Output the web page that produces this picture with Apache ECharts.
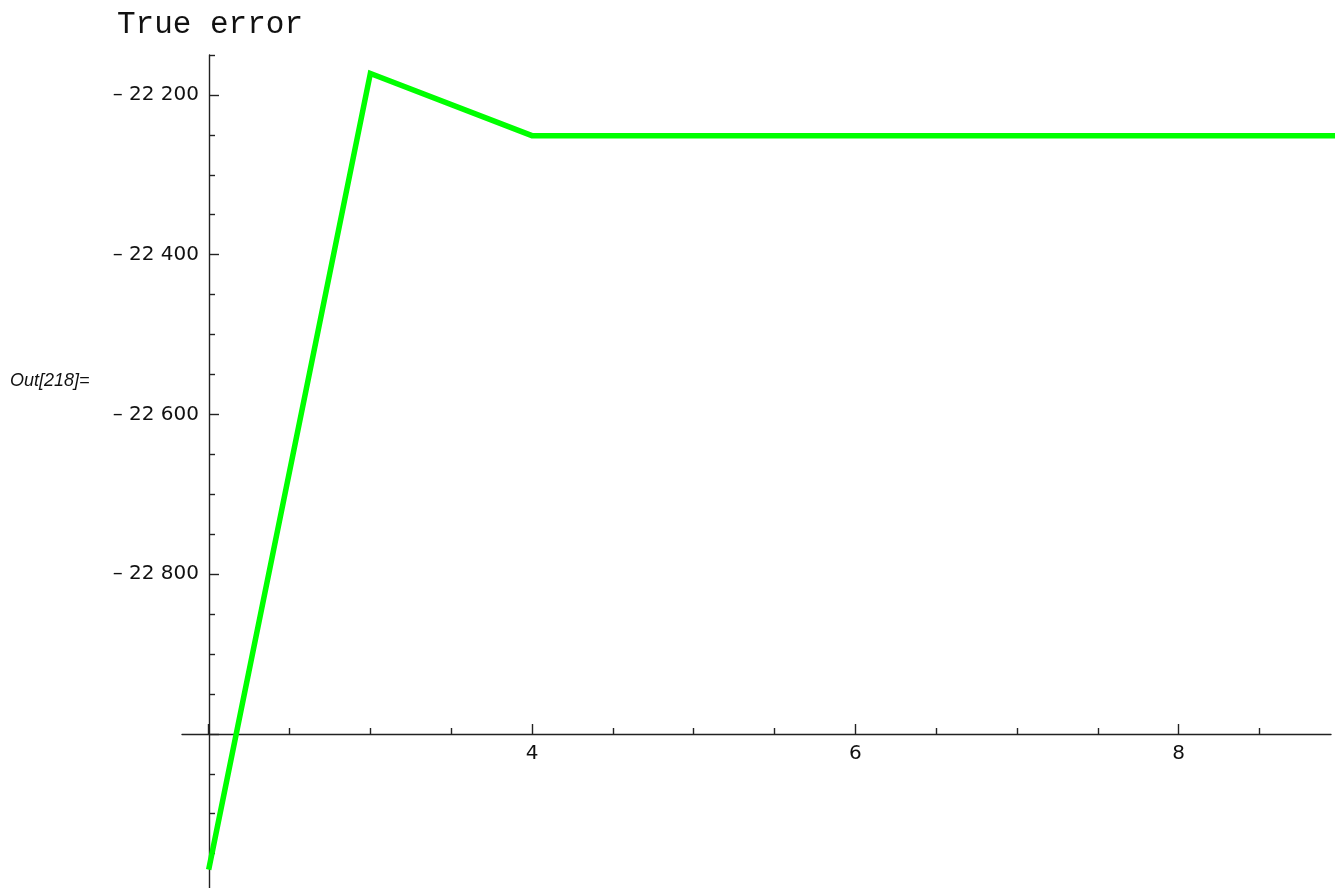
<!DOCTYPE html>
<html>
<head>
<meta charset="utf-8">
<script src="https://cdn.jsdelivr.net/npm/echarts@6/dist/echarts.min.js"></script>
<style>
html,body{margin:0;padding:0;background:#fff;}
#c{width:1338px;height:888px;}
</style>
</head>
<body>
<div id="c"></div>
<script>
// Data
const xValues = [2, 3, 4, 5, 6, 7, 8, 9];
const trueError = [-23170, -22173, -22251, -22251, -22251, -22251, -22251, -22251];
const xLabelTicks = [4, 6, 8];
const xMajorTicks = [2, 4, 6, 8];
const xMinorTicks = [2.5, 3, 3.5, 4.5, 5, 5.5, 6.5, 7, 7.5, 8.5];
const yLabelTicks = [-22800, -22600, -22400, -22200];
const yMajorTicks = [-23000, -22800, -22600, -22400, -22200];
const yMinorTicks = [-23150, -23100, -23050, -22950, -22900, -22850, -22750, -22700, -22650,
  -22550, -22500, -22450, -22350, -22300, -22250, -22150];
const titleText = 'True error';
const outLabel = 'Out[218]=';

const X_MIN = 1.835, X_MAX = 8.942;
const Y_MIN = -23193, Y_MAX = -22150;

function fmtY(v) {
  const a = Math.abs(Math.round(v));
  const s = String(a);
  const g = s.length > 3 ? s.slice(0, s.length - 3) + ' ' + s.slice(s.length - 3) : s;
  return (v < 0 ? '\u2013 ' : '') + g;
}

const axisColor = '#222';
const axisW = 1.4;
const labelStyle = { color: '#111', fontFamily: 'DejaVu Sans', fontSize: 20 };

const chart = echarts.init(document.getElementById('c'), null, { renderer: 'canvas' });
chart.setOption({
  animation: false,
  backgroundColor: '#fff',
  title: {
    text: titleText,
    left: 112,
    top: 4,
    textStyle: { fontFamily: 'Liberation Mono', fontSize: 31, fontWeight: 'normal', color: '#111' }
  },
  graphic: [{
    type: 'text',
    left: 10,
    top: 372,
    style: { text: outLabel, font: 'italic 18px "Liberation Sans"', fill: '#111' }
  }],
  grid: { left: 182, right: 7, top: 55, bottom: 0, containLabel: false },
  xAxis: [{
    type: 'value', min: X_MIN, max: X_MAX, position: 'bottom', offset: -154,
    splitLine: { show: false },
    axisLine: { show: true, onZero: false, lineStyle: { color: axisColor, width: axisW } },
    axisTick: { show: true, inside: true, length: 10, customValues: xMajorTicks, lineStyle: { color: axisColor, width: axisW } },
    axisLabel: { show: true, margin: 10, customValues: xLabelTicks, formatter: v => String(v), ...labelStyle }
  }, {
    type: 'value', min: X_MIN, max: X_MAX, position: 'bottom', offset: -154,
    splitLine: { show: false },
    axisLine: { show: false, onZero: false },
    axisTick: { show: true, inside: true, length: 6, customValues: xMinorTicks, lineStyle: { color: axisColor, width: axisW } },
    axisLabel: { show: false }
  }],
  yAxis: [{
    type: 'value', min: Y_MIN, max: Y_MAX, position: 'left', offset: -27,
    splitLine: { show: false },
    axisLine: { show: true, onZero: false, lineStyle: { color: axisColor, width: axisW } },
    axisTick: { show: true, inside: true, length: 10, customValues: yMajorTicks, lineStyle: { color: axisColor, width: axisW } },
    axisLabel: { show: true, margin: 10, customValues: yLabelTicks, formatter: fmtY, ...labelStyle }
  }, {
    type: 'value', min: Y_MIN, max: Y_MAX, position: 'left', offset: -27,
    splitLine: { show: false },
    axisLine: { show: false, onZero: false },
    axisTick: { show: true, inside: true, length: 6, customValues: yMinorTicks, lineStyle: { color: axisColor, width: axisW } },
    axisLabel: { show: false }
  }],
  series: [{
    type: 'line',
    xAxisIndex: 0, yAxisIndex: 0,
    data: xValues.map((x, i) => [x, trueError[i]]),
    showSymbol: false,
    symbol: 'none',
    clip: true,
    lineStyle: { color: '#00ff00', width: 5.5, join: 'miter', cap: 'butt' }
  }]
});
</script>
</body>
</html>
